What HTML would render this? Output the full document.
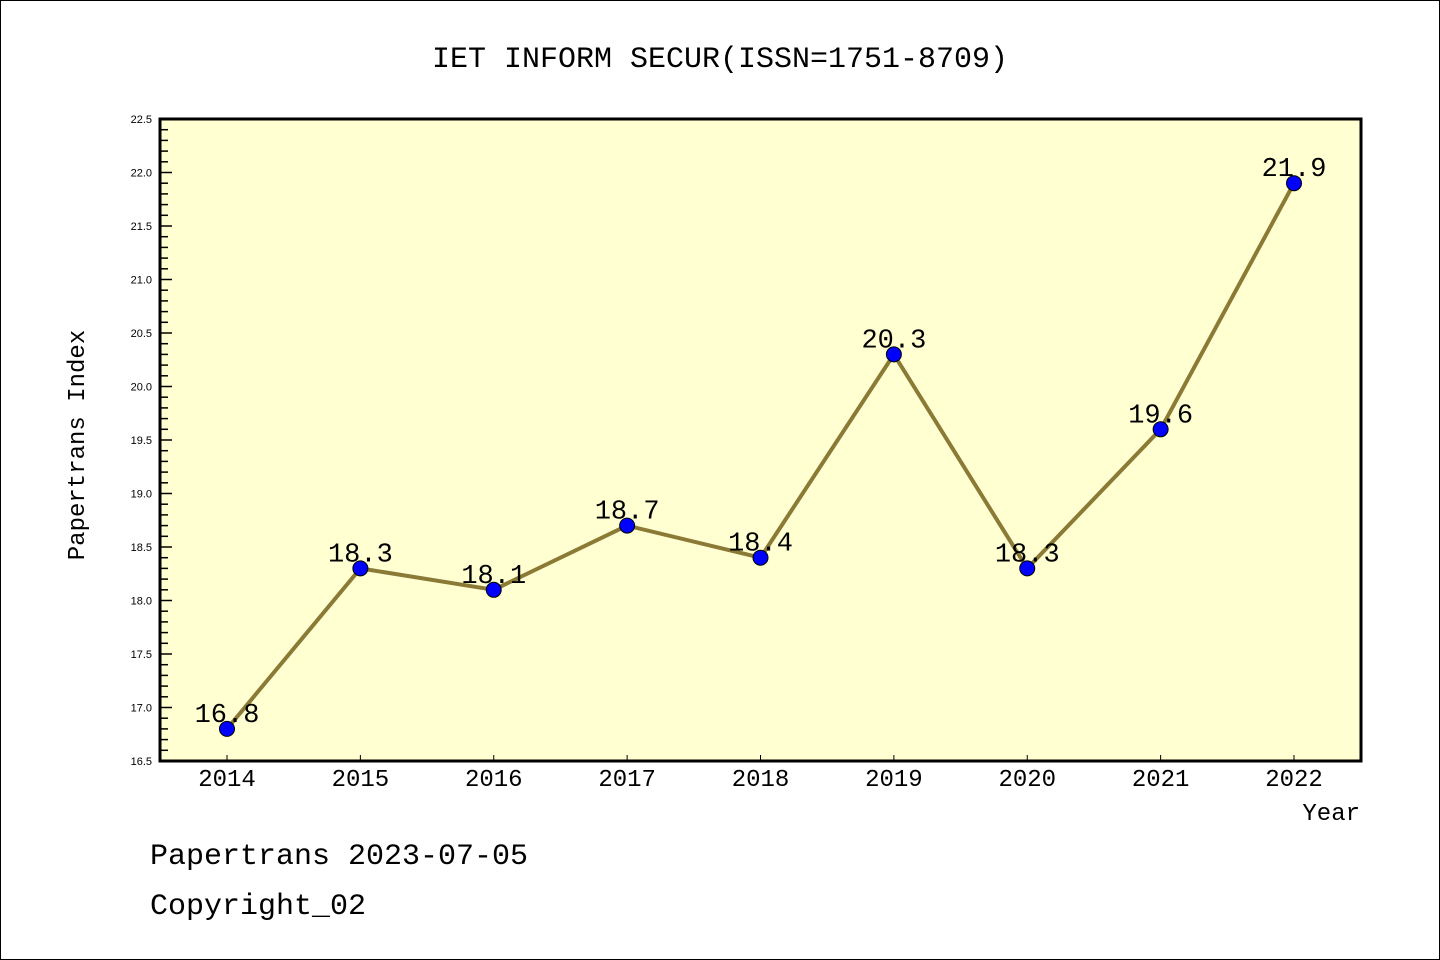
<!DOCTYPE html>
<html><head><meta charset="utf-8"><style>
body{margin:0;background:#fff}
svg{display:block;font-family:"Liberation Mono","DejaVu Sans Mono",monospace}
</style></head><body>
<svg width="1440" height="960" viewBox="0 0 1440 960">
<rect x="0.5" y="0.5" width="1439" height="959" fill="#fff" stroke="#000"/>
<text x="720" y="67" font-size="30" text-anchor="middle">IET INFORM SECUR(ISSN=1751-8709)</text>
<rect x="160" y="119" width="1201" height="642" fill="#ffffd2"/>
<g id="yaxis"></g>
<g id="xaxis"></g>
<g id="series"></g>
<rect x="160" y="119" width="1201" height="642" fill="none" stroke="#000" stroke-width="3"/>
<text x="84" y="445" font-size="24" text-anchor="middle" transform="rotate(-90 84 445)">Papertrans Index</text>
<text x="1360" y="820" font-size="24" text-anchor="end">Year</text>
<text x="150" y="864" font-size="30">Papertrans 2023-07-05</text>
<text x="150" y="914" font-size="30">Copyright_02</text>
</svg>
<script>
const years=["2014","2015","2016","2017","2018","2019","2020","2021","2022"];
const values=[16.8,18.3,18.1,18.7,18.4,20.3,18.3,19.6,21.9];
const yTicks=["16.5","17.0","17.5","18.0","18.5","19.0","19.5","20.0","20.5","21.0","21.5","22.0","22.5"];
const NS="http://www.w3.org/2000/svg";
const yMin=16.5,yMax=22.5,yTop=119,yBot=761;
function y(v){return yBot-(v-yMin)/(yMax-yMin)*(yBot-yTop);}
function x(i){return 227+i*(1294-227)/(years.length-1);}
function mk(t,a,p){const e=document.createElementNS(NS,t);for(const k in a)e.setAttribute(k,a[k]);p.appendChild(e);return e;}
const ya=document.getElementById('yaxis');
for(let k=0;k<=60;k++){const v=yMin+k*0.1;const major=k%5===0;
 const t=mk('line',{x1:160,x2:160+(major?12:8),y1:y(v),y2:y(v),stroke:'#000','stroke-width':1.5},ya);
 
 }
yTicks.forEach(s=>{const t=mk('text',{x:152,y:y(parseFloat(s))+4,'font-size':11,'text-anchor':'end','font-family':'"Liberation Sans",sans-serif'},ya);t.textContent=s;
 
 });
const xa=document.getElementById('xaxis');
years.forEach((s,i)=>{const l=mk('line',{x1:x(i),x2:x(i),y1:761,y2:755,stroke:'#000','stroke-width':1},xa);
 
 
 const t=mk('text',{x:x(i),y:786,'font-size':24,'text-anchor':'middle'},xa);t.textContent=s;
 
 });
const sg=document.getElementById('series');
const pl=mk('polyline',{points:values.map((v,i)=>x(i)+','+y(v)).join(' '),fill:'none',stroke:'#8b7a35','stroke-width':4,'stroke-linejoin':'round'},sg);


values.forEach((v,i)=>{const c=mk('circle',{cx:x(i),cy:y(v),r:7.5,fill:'#0000ff',stroke:'#000','stroke-width':1},sg);
 
 
 const t=mk('text',{x:x(i),y:y(v)-7,'font-size':27,'text-anchor':'middle'},sg);t.textContent=v.toFixed(1);
 
 });
</script>
</body></html>
